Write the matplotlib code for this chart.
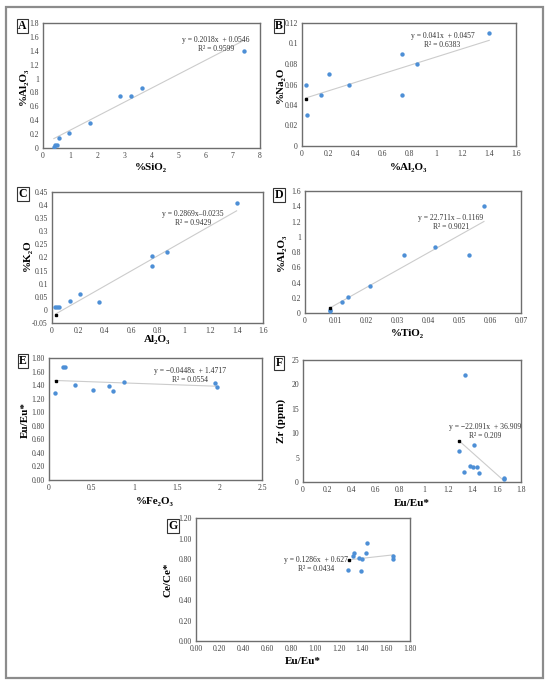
import numpy as np
import matplotlib
matplotlib.use('Agg')
import matplotlib.pyplot as plt
from matplotlib.ticker import FuncFormatter, MultipleLocator
from matplotlib.patches import Rectangle

plt.rcParams['font.family'] = ['Liberation Serif', 'DejaVu Serif']

# data
al2o3 = [0.02, 0.04, 0.05, 0.14, 0.21, 0.36, 0.75, 0.75, 0.87, 1.40]
sio2 = [0.40, 0.45, 0.50, 0.60, 0.95, 1.72, 2.85, 3.25, 3.65, 7.40]

b_al2o3 = [0.03, 0.04, 0.14, 0.20, 0.35, 0.75, 0.75, 0.86, 1.40]
b_na2o = [0.06, 0.03, 0.05, 0.07, 0.06, 0.09, 0.05, 0.08, 0.11]

c_al2o3 = [0.02, 0.04, 0.05, 0.14, 0.21, 0.36, 0.76, 0.76, 0.87, 1.40]
c_k2o = [0.01, 0.01, 0.01, 0.035, 0.06, 0.03, 0.205, 0.168, 0.22, 0.407]

d_tio2 = [0.008, 0.008, 0.012, 0.014, 0.021, 0.032, 0.042, 0.053, 0.058]
d_al2o3 = [0.02, 0.04, 0.14, 0.21, 0.36, 0.76, 0.87, 0.76, 1.40]

e_fe2o3 = [0.07, 0.17, 0.19, 0.31, 0.52, 0.70, 0.75, 0.88, 1.95, 1.97]
e_eu = [1.28, 1.66, 1.66, 1.40, 1.33, 1.39, 1.32, 1.44, 1.43, 1.37]

f_eu = [1.29, 1.33, 1.34, 1.38, 1.40, 1.41, 1.44, 1.45, 1.66, 1.66]
f_zr = [6.4, 2.0, 22.0, 3.2, 3.0, 7.6, 3.0, 1.8, 0.8, 0.6]

g_eu = [1.28, 1.32, 1.33, 1.37, 1.39, 1.40, 1.43, 1.44, 1.66, 1.66]
g_ce = [0.69, 0.83, 0.86, 0.81, 0.68, 0.80, 0.86, 0.96, 0.83, 0.80]

W, H = 550, 686
fig = plt.figure(figsize=(W / 100, H / 100), dpi=100)

# outer frame
fig.patches.append(Rectangle((6 / W, 1 - 678 / H), (543 - 6) / W, (678 - 7) / H,
                             transform=fig.transFigure, fill=False,
                             edgecolor='#8c8c8c', linewidth=1.6))

blue = '#4d8fd6'


def make_ax(x0, y0, x1, y1):
    return fig.add_axes([x0 / W, 1 - y1 / H, (x1 - x0) / W, (y1 - y0) / H])


def panel(box, x, y, xlim, xstep, ylim, ystep, xfmt, yfmt, xlabel, ylabel,
          fit, fit_x, eq, eq_pos, letter, letter_pos, black_pt,
          xlab_y, ylab_x):
    ax = make_ax(*box)
    ax.scatter(x, y, s=10, color=blue, zorder=3, linewidths=0)
    xs = np.array(fit_x)
    ax.plot(xs, fit[0] * xs + fit[1], color='#cccccc', lw=0.8, zorder=2)
    if black_pt is not None:
        ax.plot([black_pt[0]], [black_pt[1]], 's', color='black', ms=1.6, zorder=4)
    ax.set_xlim(*xlim)
    ax.set_ylim(*ylim)
    ax.xaxis.set_major_locator(MultipleLocator(xstep))
    ax.yaxis.set_major_locator(MultipleLocator(ystep))
    ax.xaxis.set_major_formatter(FuncFormatter(lambda v, p: xfmt % v if abs(v) > 1e-9 else xfmt % 0))
    ax.yaxis.set_major_formatter(FuncFormatter(lambda v, p: yfmt % v if abs(v) > 1e-9 else yfmt % 0))
    ax.tick_params(length=0, labelsize=5.5, pad=3, colors='#404040')
    for s in ax.spines.values():
        s.set_color('#6e6e6e')
        s.set_linewidth(1.0)
    ax.text(eq_pos[0], eq_pos[1], eq, fontsize=5.5, ha='center', va='center',
            color='#333333', linespacing=1.15, multialignment='center')
    fig.text(xlab_y[0] / W, 1 - xlab_y[1] / H, xlabel, fontsize=8, fontweight='bold',
             ha='center', va='center')
    fig.text(ylab_x[0] / W, 1 - ylab_x[1] / H, ylabel, fontsize=8, fontweight='bold',
             ha='center', va='center', rotation=90)
    fig.text(letter_pos[0] / W, 1 - letter_pos[1] / H, letter, fontsize=8.5, fontweight='bold',
             ha='center', va='center',
             bbox=dict(boxstyle='square,pad=0.12', facecolor='white', edgecolor='#333333', lw=0.8))
    return ax


panel((43, 23, 260, 148), sio2, al2o3, (0, 8), 1, (0, 1.8), 0.2, '%g', '%g',
      '%SiO\u2082', '%Al\u2082O\u2083', (0.2018, 0.0546), [0.4, 7.4],
      'y = 0.2018x  + 0.0546\nR\u00b2 = 0.9599', (6.38, 1.49),
      'A', (22.5, 26), None, (151, 168), (23, 86))

panel((302, 23, 516, 146), b_al2o3, b_na2o, (0, 1.6), 0.2, (0, 0.12), 0.02, '%g', '%g',
      '%Al\u2082O\u2083', '%Na\u2082O', (0.041, 0.0457), [0.03, 1.4],
      'y = 0.041x  + 0.0457\nR\u00b2 = 0.6383', (1.05, 0.1025),
      'B', (279, 26), (0.03, 0.046), (409, 168), (280, 85))

panel((52, 192, 263, 323), c_al2o3, c_k2o, (0, 1.6), 0.2, (-0.05, 0.45), 0.05, '%g', '%g',
      'Al\u2082O\u2083', '%K\u2082O', (0.2869, -0.0235), [0.03, 1.4],
      'y = 0.2869x\u20130.0235\nR\u00b2 = 0.9429', (1.07, 0.348),
      'C', (23, 194), (0.03, -0.018), (157, 339), (27, 255))

panel((305, 191, 521, 313), d_tio2, d_al2o3, (0, 0.07), 0.01, (0, 1.6), 0.2, '%g', '%g',
      '%TiO\u2082', '%Al\u2082O\u2083', (22.711, -0.1169), [0.008, 0.058],
      'y = 22.711x \u2013 0.1169\nR\u00b2 = 0.9021', (0.0473, 1.19),
      'D', (279, 195), (0.008, 0.06), (407, 334), (281, 252))

panel((49, 358, 262, 480), e_fe2o3, e_eu, (0, 2.5), 0.5, (0, 1.8), 0.2, '%g', '%.2f',
      '%Fe\u2082O\u2083', 'Eu/Eu*', (-0.0448, 1.4717), [0.07, 1.97],
      'y = \u22120.0448x  + 1.4717\nR\u00b2 = 0.0554', (1.655, 1.54),
      'E', (23, 361), (0.08, 1.46), (155, 502), (25, 420))

panel((303, 360, 521, 482), f_eu, f_zr, (0, 1.8), 0.2, (0, 25), 5, '%g', '%g',
      'Eu/Eu*', 'Zr (ppm)', (-22.091, 36.909), [1.29, 1.66],
      'y = \u221222.091x  + 36.909\nR\u00b2 = 0.209', (1.503, 10.3),
      'F', (279, 363), (1.285, 8.3), (412, 504), (281, 421))

panel((196, 518, 410, 641), g_eu, g_ce, (0, 1.8), 0.2, (0, 1.2), 0.2, '%.2f', '%.2f',
      'Eu/Eu*', 'Ce/Ce*', (0.1286, 0.627), [1.28, 1.66],
      'y = 0.1286x  + 0.627\nR\u00b2 = 0.0434', (1.01, 0.75),
      'G', (173, 526), (1.285, 0.79), (303, 661), (168, 580))

fig.savefig('out.png', dpi=100)
